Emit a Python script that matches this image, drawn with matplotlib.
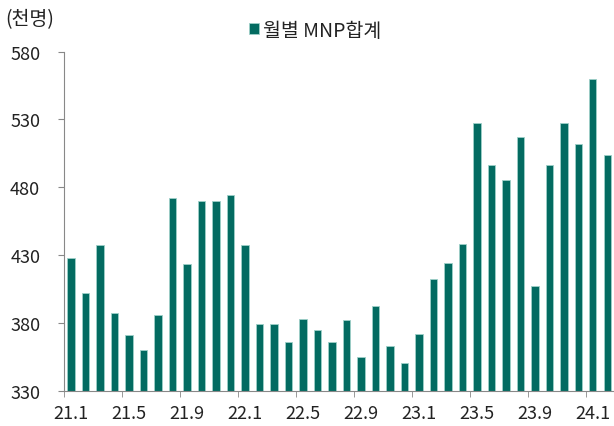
import numpy as np
import matplotlib.pyplot as plt

plt.rcParams['font.family'] = ['Noto Sans CJK KR', 'DejaVu Sans']

# monthly MNP totals (thousand persons), 21.1 ~ 24.2
months = ['21.1', '21.2', '21.3', '21.4', '21.5', '21.6', '21.7', '21.8', '21.9', '21.10',
          '21.11', '21.12', '22.1', '22.2', '22.3', '22.4', '22.5', '22.6', '22.7', '22.8',
          '22.9', '22.10', '22.11', '22.12', '23.1', '23.2', '23.3', '23.4', '23.5', '23.6',
          '23.7', '23.8', '23.9', '23.10', '23.11', '23.12', '24.1', '24.2']
mnp_total = [428, 402, 437, 387, 371, 360, 386, 472, 423, 470,
             470, 474, 437, 379, 379, 366, 383, 375, 366, 382,
             355, 392, 363, 350, 372, 412, 424, 438, 527, 496,
             485, 517, 407, 496, 527, 512, 560, 504]
yticks = [330, 380, 430, 480, 530, 580]

fig = plt.figure(figsize=(6.14, 4.27), dpi=100)
ax = fig.add_axes([0.104, 0.083, 0.897, 0.794])

x = np.arange(len(months))
ax.bar(x, mnp_total, width=0.5, color='#036b61', edgecolor='#9fd0c9',
       linewidth=0.6, label='월별 MNP합계')

ax.set_ylim(330, 580)
ax.set_xlim(-0.5, len(months) - 0.5)
ax.set_yticks(yticks)
ax.tick_params(axis='y', length=4, color='#888888', labelsize=13, pad=13)

# labels every 4 months at bar centres, tick marks at category boundaries
ax.set_xticks(x[::4])
ax.set_xticklabels(months[::4])
ax.set_xticks(x[::4] - 0.5, minor=True)
ax.tick_params(axis='x', which='major', length=0, labelsize=13, pad=10)
ax.tick_params(axis='x', which='minor', length=4, color='#888888')

for s in ['top', 'right']:
    ax.spines[s].set_visible(False)
for s in ['left', 'bottom']:
    ax.spines[s].set_color('#888888')
    ax.spines[s].set_linewidth(0.8)

for lab in ax.get_xticklabels() + ax.get_yticklabels():
    lab.set_color('#222222')

fig.text(0.008, 0.955, '(천명)', fontsize=14, color='#222222', va='center')
fig.legend(loc='center', bbox_to_anchor=(0.513, 0.927), frameon=False,
           fontsize=14, handlelength=0.5, handleheight=0.5, handletextpad=0.2,
           labelcolor='#222222')

fig.savefig('out.png', dpi=100)
